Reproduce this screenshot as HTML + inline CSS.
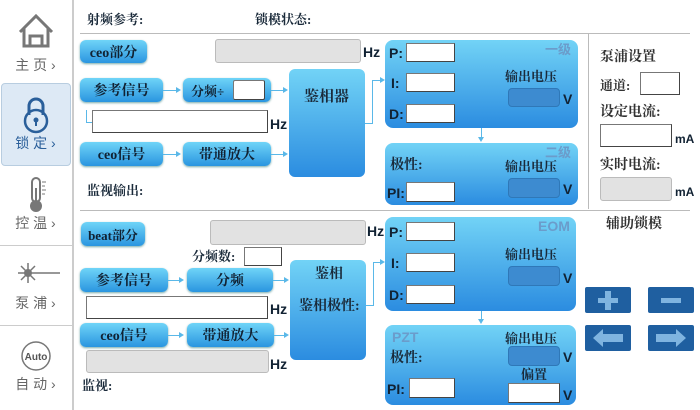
<!DOCTYPE html>
<html><head><meta charset="utf-8"><style>
*{margin:0;padding:0;box-sizing:border-box}
body{width:700px;height:410px;background:#fff;position:relative;overflow:hidden;font-family:"Liberation Serif","Noto Serif CJK SC","Noto Sans CJK SC",serif;color:#1a2a3a}
.a{position:absolute}
.t{position:absolute;font-size:13px;white-space:nowrap;line-height:1;font-weight:bold}
.btn{position:absolute;border-radius:6px;background:linear-gradient(#6fd4f8,#2a95e0);box-shadow:0 1px 2px #7aa;color:#123;font-size:14px;font-weight:bold;display:flex;align-items:center;justify-content:center;white-space:nowrap}
.pan{position:absolute;border-radius:8px;background:linear-gradient(#72d3f6,#2b8ce0)}
.wb{position:absolute;background:#fff;border:1px solid #777;border-right-color:#444;border-bottom-color:#444}
.gb{position:absolute;background:#e2e2e2;border:1px solid #bbb;border-radius:3px}
.db{position:absolute;background:#3d8bd0;border:1px solid #2f78b8;border-radius:4px}
.lb{position:absolute;font-family:"Liberation Sans",sans-serif;font-weight:bold;font-size:14px;color:#123;line-height:1}
.gr{position:absolute;font-family:"Liberation Sans","Noto Sans CJK SC",sans-serif;font-weight:bold;font-size:13px;color:#6b9ccb;line-height:1}
.hl{position:absolute;height:1px;background:#5ab8e8}
.vl{position:absolute;width:1px;background:#5ab8e8}
.ar{position:absolute;width:0;height:0;border-top:3px solid transparent;border-bottom:3px solid transparent;border-left:5px solid #5ab8e8}
.sb{position:absolute;left:0;width:71px;text-align:center;color:#666;font-size:14px;font-family:"Liberation Sans","Noto Sans CJK SC",sans-serif}
.nb{position:absolute;width:46px;height:26px;background:#1f5fa0;border-radius:2px}
</style></head><body>
<!-- sidebar -->
<div class="a" style="left:72px;top:0;width:2px;height:410px;background:#ccc"></div>
<div class="a" style="left:1px;top:83px;width:70px;height:83px;background:#dde9f5;border:1px solid #b8cde0;border-radius:4px"></div>
<div class="a" style="left:0;top:245px;width:72px;height:1px;background:#ccc"></div>
<div class="a" style="left:0;top:325px;width:72px;height:1px;background:#ccc"></div>
<svg class="a" style="left:0;top:0" width="72" height="410">
<path d="M20 32 L36 16 L52 32 M24 28 V46 H48 V28 M30 46 V36 H42 V46" fill="none" stroke="#777" stroke-width="3"/>
<path d="M29 115 V106 a7 7 0 0 1 14 0 V115" fill="none" stroke="#2a5f9a" stroke-width="3"/>
<circle cx="36" cy="121" r="11" fill="none" stroke="#2a5f9a" stroke-width="2.5"/>
<circle cx="36" cy="120" r="2.5" fill="#2a5f9a"/><rect x="35" y="121" width="2" height="5" fill="#2a5f9a"/>
<rect x="32" y="178" width="8" height="24" rx="4" fill="none" stroke="#777" stroke-width="2"/>
<circle cx="36" cy="206" r="6" fill="#777"/><rect x="35" y="188" width="2" height="14" fill="#777"/>
<path d="M42 182h4M42 186h3M42 190h4M42 194h3" stroke="#777"/>
<g stroke="#777" stroke-width="1.5"><path d="M18 273 L38 273 M28 263 L28 283 M21 266 L35 280 M35 266 L21 280 M38 273 L60 273"/></g>
<circle cx="28" cy="273" r="4" fill="#777"/>
<circle cx="36" cy="356" r="14" fill="none" stroke="#777" stroke-width="1.5"/>
<text x="36" y="360" font-family="Liberation Sans" font-size="10" font-weight="bold" fill="#555" text-anchor="middle">Auto</text>
</svg>
<div class="sb" style="top:55px">主 页 ›</div>
<div class="sb" style="top:133px;color:#2a5f9a">锁 定 ›</div>
<div class="sb" style="top:213px">控 温 ›</div>
<div class="sb" style="top:293px">泵 浦 ›</div>
<div class="sb" style="top:374px">自 动 ›</div>

<!-- lines -->
<div class="a" style="left:80px;top:33px;width:610px;height:1px;background:#bbb"></div>
<div class="a" style="left:588px;top:33px;width:1px;height:176px;background:#bbb"></div>
<div class="a" style="left:80px;top:210px;width:610px;height:1px;background:#bbb"></div>

<div class="t" style="left:87px;top:13px">射频参考:</div>
<div class="t" style="left:255px;top:13px">锁模状态:</div>

<!-- upper -->
<div class="btn" style="left:80px;top:40px;width:67px;height:23px">ceo部分</div>
<div class="gb" style="left:215px;top:39px;width:146px;height:24px"></div>
<div class="lb" style="left:363px;top:45px">Hz</div>
<div class="btn" style="left:80px;top:78px;width:83px;height:24px">参考信号</div>
<div class="btn" style="left:183px;top:78px;width:88px;height:24px;justify-content:flex-start;padding-left:8px;font-size:13px">分频÷</div>
<div class="wb" style="left:233px;top:80px;width:32px;height:20px;border-radius:2px"></div>
<div class="wb" style="left:92px;top:110px;width:176px;height:23px"></div>
<div class="lb" style="left:270px;top:117px">Hz</div>
<div class="btn" style="left:80px;top:142px;width:83px;height:24px">ceo信号</div>
<div class="btn" style="left:183px;top:142px;width:88px;height:24px">带通放大</div>
<div class="pan" style="left:289px;top:69px;width:76px;height:108px;border-radius:6px"></div>
<div class="t" style="left:304px;top:90px;font-size:15px">鉴相器</div>
<div class="hl" style="left:163px;top:90px;width:14px"></div><div class="ar" style="left:176px;top:87px"></div>
<div class="hl" style="left:271px;top:90px;width:13px"></div><div class="ar" style="left:283px;top:87px"></div>
<div class="hl" style="left:163px;top:154px;width:14px"></div><div class="ar" style="left:176px;top:151px"></div>
<div class="hl" style="left:271px;top:154px;width:13px"></div><div class="ar" style="left:283px;top:151px"></div>
<div class="vl" style="left:86px;top:110px;height:12px"></div><div class="hl" style="left:86px;top:122px;width:6px"></div>
<div class="hl" style="left:365px;top:123px;width:7px"></div><div class="vl" style="left:372px;top:80px;height:44px"></div>
<div class="hl" style="left:372px;top:80px;width:9px"></div><div class="ar" style="left:380px;top:77px"></div>
<div class="t" style="left:87px;top:184px">监视输出:</div>

<div class="pan" style="left:385px;top:40px;width:193px;height:88px"></div>
<div class="lb" style="left:389px;top:46px">P:</div><div class="wb" style="left:406px;top:43px;width:49px;height:19px"></div>
<div class="lb" style="left:391px;top:76px">I:</div><div class="wb" style="left:406px;top:73px;width:49px;height:19px"></div>
<div class="lb" style="left:389px;top:107px">D:</div><div class="wb" style="left:406px;top:104px;width:49px;height:19px"></div>
<div class="gr" style="left:545px;top:43px">一级</div>
<div class="t" style="left:505px;top:70px">输出电压</div>
<div class="db" style="left:508px;top:88px;width:52px;height:19px"></div>
<div class="lb" style="left:563px;top:92px">V</div>
<div class="vl" style="left:481px;top:128px;height:10px"></div>
<div class="a" style="left:478px;top:137px;border-left:3px solid transparent;border-right:3px solid transparent;border-top:5px solid #5ab8e8"></div>
<div class="pan" style="left:385px;top:143px;width:193px;height:62px"></div>
<div class="gr" style="left:545px;top:146px">二级</div>
<div class="t" style="left:390px;top:159px;font-size:14px">极性:</div>
<div class="t" style="left:505px;top:160px">输出电压</div>
<div class="db" style="left:508px;top:178px;width:52px;height:20px"></div>
<div class="lb" style="left:563px;top:182px">V</div>
<div class="lb" style="left:387px;top:186px">PI:</div><div class="wb" style="left:406px;top:182px;width:49px;height:20px"></div>

<div class="t" style="left:600px;top:51px;font-size:14px;color:#333">泵浦设置</div>
<div class="t" style="left:600px;top:79px;color:#333">通道:</div>
<div class="wb" style="left:640px;top:72px;width:40px;height:23px"></div>
<div class="t" style="left:600px;top:106px;font-size:14px;color:#333">设定电流:</div>
<div class="wb" style="left:600px;top:124px;width:72px;height:23px"></div>
<div class="lb" style="left:675px;top:133px;font-size:12px">mA</div>
<div class="t" style="left:600px;top:159px;font-size:14px;color:#333">实时电流:</div>
<div class="gb" style="left:600px;top:177px;width:72px;height:24px"></div>
<div class="lb" style="left:675px;top:186px;font-size:12px">mA</div>

<!-- lower -->
<div class="btn" style="left:81px;top:222px;width:64px;height:24px;font-size:13px">beat部分</div>
<div class="gb" style="left:210px;top:220px;width:156px;height:25px"></div>
<div class="lb" style="left:367px;top:224px">Hz</div>
<div class="t" style="left:192px;top:250px">分频数:</div>
<div class="wb" style="left:244px;top:247px;width:38px;height:19px"></div>
<div class="btn" style="left:80px;top:268px;width:88px;height:24px">参考信号</div>
<div class="btn" style="left:187px;top:268px;width:86px;height:24px">分频</div>
<div class="wb" style="left:86px;top:296px;width:182px;height:23px"></div>
<div class="lb" style="left:270px;top:302px">Hz</div>
<div class="btn" style="left:80px;top:323px;width:88px;height:24px">ceo信号</div>
<div class="btn" style="left:187px;top:323px;width:87px;height:24px">带通放大</div>
<div class="gb" style="left:86px;top:350px;width:183px;height:23px"></div>
<div class="lb" style="left:270px;top:357px">Hz</div>
<div class="pan" style="left:290px;top:260px;width:76px;height:100px;border-radius:6px"></div>
<div class="t" style="left:315px;top:268px;font-size:14px">鉴相</div>
<div class="t" style="left:299px;top:300px;font-size:14px">鉴相极性:</div>
<div class="hl" style="left:168px;top:280px;width:12px"></div><div class="ar" style="left:179px;top:277px"></div>
<div class="hl" style="left:273px;top:280px;width:12px"></div><div class="ar" style="left:284px;top:277px"></div>
<div class="hl" style="left:168px;top:335px;width:12px"></div><div class="ar" style="left:179px;top:332px"></div>
<div class="hl" style="left:274px;top:335px;width:11px"></div><div class="ar" style="left:284px;top:332px"></div>
<div class="hl" style="left:366px;top:305px;width:7px"></div><div class="vl" style="left:373px;top:262px;height:44px"></div>
<div class="hl" style="left:373px;top:262px;width:8px"></div><div class="ar" style="left:380px;top:259px"></div>
<div class="t" style="left:82px;top:379px">监视:</div>

<div class="pan" style="left:385px;top:217px;width:191px;height:94px"></div>
<div class="gr" style="left:538px;top:219px;font-size:14px">EOM</div>
<div class="lb" style="left:389px;top:225px">P:</div><div class="wb" style="left:406px;top:222px;width:49px;height:19px"></div>
<div class="lb" style="left:391px;top:256px">I:</div><div class="wb" style="left:406px;top:253px;width:49px;height:19px"></div>
<div class="lb" style="left:389px;top:288px">D:</div><div class="wb" style="left:406px;top:285px;width:49px;height:19px"></div>
<div class="t" style="left:505px;top:248px">输出电压</div>
<div class="db" style="left:508px;top:266px;width:52px;height:20px"></div>
<div class="lb" style="left:563px;top:271px">V</div>
<div class="vl" style="left:481px;top:311px;height:9px"></div>
<div class="a" style="left:478px;top:319px;border-left:3px solid transparent;border-right:3px solid transparent;border-top:5px solid #5ab8e8"></div>
<div class="pan" style="left:385px;top:325px;width:191px;height:80px"></div>
<div class="gr" style="left:392px;top:330px;font-size:14px">PZT</div>
<div class="t" style="left:505px;top:332px">输出电压</div>
<div class="db" style="left:508px;top:346px;width:52px;height:20px"></div>
<div class="lb" style="left:563px;top:350px">V</div>
<div class="t" style="left:390px;top:352px;font-size:14px">极性:</div>
<div class="t" style="left:521px;top:368px">偏置</div>
<div class="wb" style="left:508px;top:383px;width:52px;height:20px"></div>
<div class="lb" style="left:563px;top:388px">V</div>
<div class="lb" style="left:387px;top:382px">PI:</div><div class="wb" style="left:409px;top:378px;width:46px;height:20px"></div>

<div class="t" style="left:606px;top:218px;font-size:14px;color:#333">辅助锁模</div>
<div class="nb" style="left:585px;top:287px"><div class="a" style="left:13px;top:11px;width:20px;height:5px;background:#7fb4e0"></div><div class="a" style="left:20px;top:4px;width:6px;height:19px;background:#7fb4e0"></div></div>
<div class="nb" style="left:648px;top:287px"><div class="a" style="left:13px;top:11px;width:20px;height:5px;background:#7fb4e0"></div></div>
<div class="nb" style="left:585px;top:325px"><svg width="46" height="26"><path d="M8 13 L18 4 V9 H38 V17 H18 V22 Z" fill="#7fb4e0"/></svg></div>
<div class="nb" style="left:648px;top:325px"><svg width="46" height="26"><path d="M38 13 L28 4 V9 H8 V17 H28 V22 Z" fill="#7fb4e0"/></svg></div>
</body></html>
